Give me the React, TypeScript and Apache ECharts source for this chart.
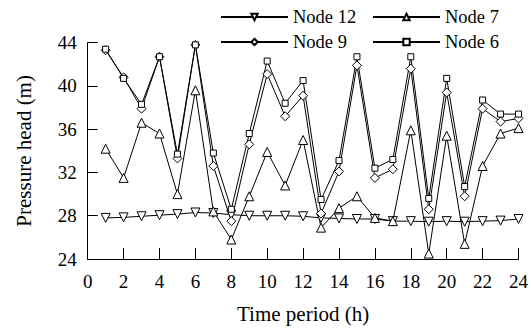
import React, { useEffect, useRef } from "react";
import * as echarts from "echarts";

const hours = [1, 2, 3, 4, 5, 6, 7, 8, 9, 10, 11, 12, 13, 14, 15, 16, 17, 18, 19, 20, 21, 22, 23, 24];
const node12 = [27.8, 27.85, 27.95, 28.05, 28.15, 28.3, 28.25, 28.1, 28.0, 28.0, 28.0, 27.95, 27.8, 27.75, 27.7, 27.7, 27.5, 27.5, 27.45, 27.5, 27.45, 27.5, 27.55, 27.7];
const node7 = [34.2, 31.5, 36.6, 35.6, 30.0, 39.6, 28.4, 25.8, 29.8, 33.9, 30.8, 35.0, 26.9, 28.7, 29.8, 27.8, 27.5, 35.9, 24.5, 35.4, 25.4, 32.6, 35.6, 36.1];
const node9 = [43.3, 40.8, 37.9, 42.7, 33.3, 43.8, 32.6, 27.5, 34.6, 41.1, 37.2, 39.1, 28.2, 32.1, 41.9, 31.5, 32.3, 41.6, 28.6, 39.4, 29.8, 37.9, 36.7, 37.0];
const node6 = [43.4, 40.7, 38.3, 42.7, 33.7, 43.8, 33.8, 28.6, 35.6, 42.3, 38.4, 40.5, 29.5, 33.1, 42.7, 32.4, 33.2, 42.7, 29.6, 40.7, 30.7, 38.7, 37.4, 37.4];
const seriesNames = ["Node 12", "Node 7", "Node 9", "Node 6"];
const xTicks = { min: 0, max: 24, interval: 2 };
const yTicks = { min: 24, max: 44, interval: 4 };

const FONT = "Liberation Serif";

export default function App() {
  const ref = useRef<HTMLDivElement>(null);
  useEffect(() => {
    if (!ref.current) return;
    const chart = echarts.init(ref.current, null, { renderer: "svg" });
    const pairs = (vals: number[]) => hours.map((h, i) => [h, vals[i]]);
    const mk = (name: string, vals: number[], symbol: string, size: number, rotate = 0) => ({
      name,
      type: "line",
      data: pairs(vals),
      symbol,
      symbolSize: size,
      symbolRotate: rotate,
      showAllSymbol: true,
      lineStyle: { color: "#000", width: 1 },
      itemStyle: { color: "#fff", borderColor: "#000", borderWidth: 1 },
      emphasis: { disabled: true },
    });
    const legendBase = {
      itemWidth: 67,
      itemHeight: 8,
      itemGap: 5,
      padding: 0,
      textStyle: { fontFamily: FONT, fontSize: 18.5, color: "#000", lineHeight: 20 },
      selectedMode: false,
    };
    chart.setOption({
      animation: false,
      backgroundColor: "#fff",
      textStyle: { fontFamily: FONT },
      legend: [
        { ...legendBase, data: [seriesNames[0]], left: 220, top: 7 },
        { ...legendBase, data: [seriesNames[1]], left: 372, top: 7 },
        { ...legendBase, data: [seriesNames[2]], left: 220, top: 32 },
        { ...legendBase, data: [seriesNames[3]], left: 372, top: 32 },
      ],
      grid: { left: 87.7, right: 9, top: 42.7, bottom: 64, containLabel: false },
      xAxis: {
        type: "value",
        min: xTicks.min,
        max: xTicks.max,
        interval: xTicks.interval,
        name: "Time period (h)",
        nameLocation: "middle",
        nameGap: 44,
        nameTextStyle: { fontFamily: FONT, fontSize: 21, color: "#000" },
        axisLine: { show: true, lineStyle: { color: "#000", width: 1 } },
        axisTick: { show: true, inside: true, length: 11, lineStyle: { color: "#000" } },
        axisLabel: { fontFamily: FONT, fontSize: 19, color: "#000", margin: 13 },
        splitLine: { show: false },
      },
      yAxis: {
        type: "value",
        min: yTicks.min,
        max: yTicks.max,
        interval: yTicks.interval,
        name: "Pressure head (m)",
        nameLocation: "middle",
        nameGap: 53,
        nameTextStyle: { fontFamily: FONT, fontSize: 21, color: "#000" },
        axisLine: { show: true, lineStyle: { color: "#000", width: 1 } },
        axisTick: { show: true, inside: true, length: 10, lineStyle: { color: "#000" } },
        axisLabel: { fontFamily: FONT, fontSize: 19, color: "#000", margin: 11 },
        splitLine: { show: false },
      },
      series: [
        mk(seriesNames[0], node12, "triangle", 9, 180),
        mk(seriesNames[1], node7, "triangle", 9),
        mk(seriesNames[2], node9, "diamond", 9),
        mk(seriesNames[3], node6, "rect", 6),
      ],
    });
    return () => chart.dispose();
  }, []);
  return <div ref={ref} style={{ position: "fixed", left: 0, top: 0, width: 531, height: 329 }} />;
}
